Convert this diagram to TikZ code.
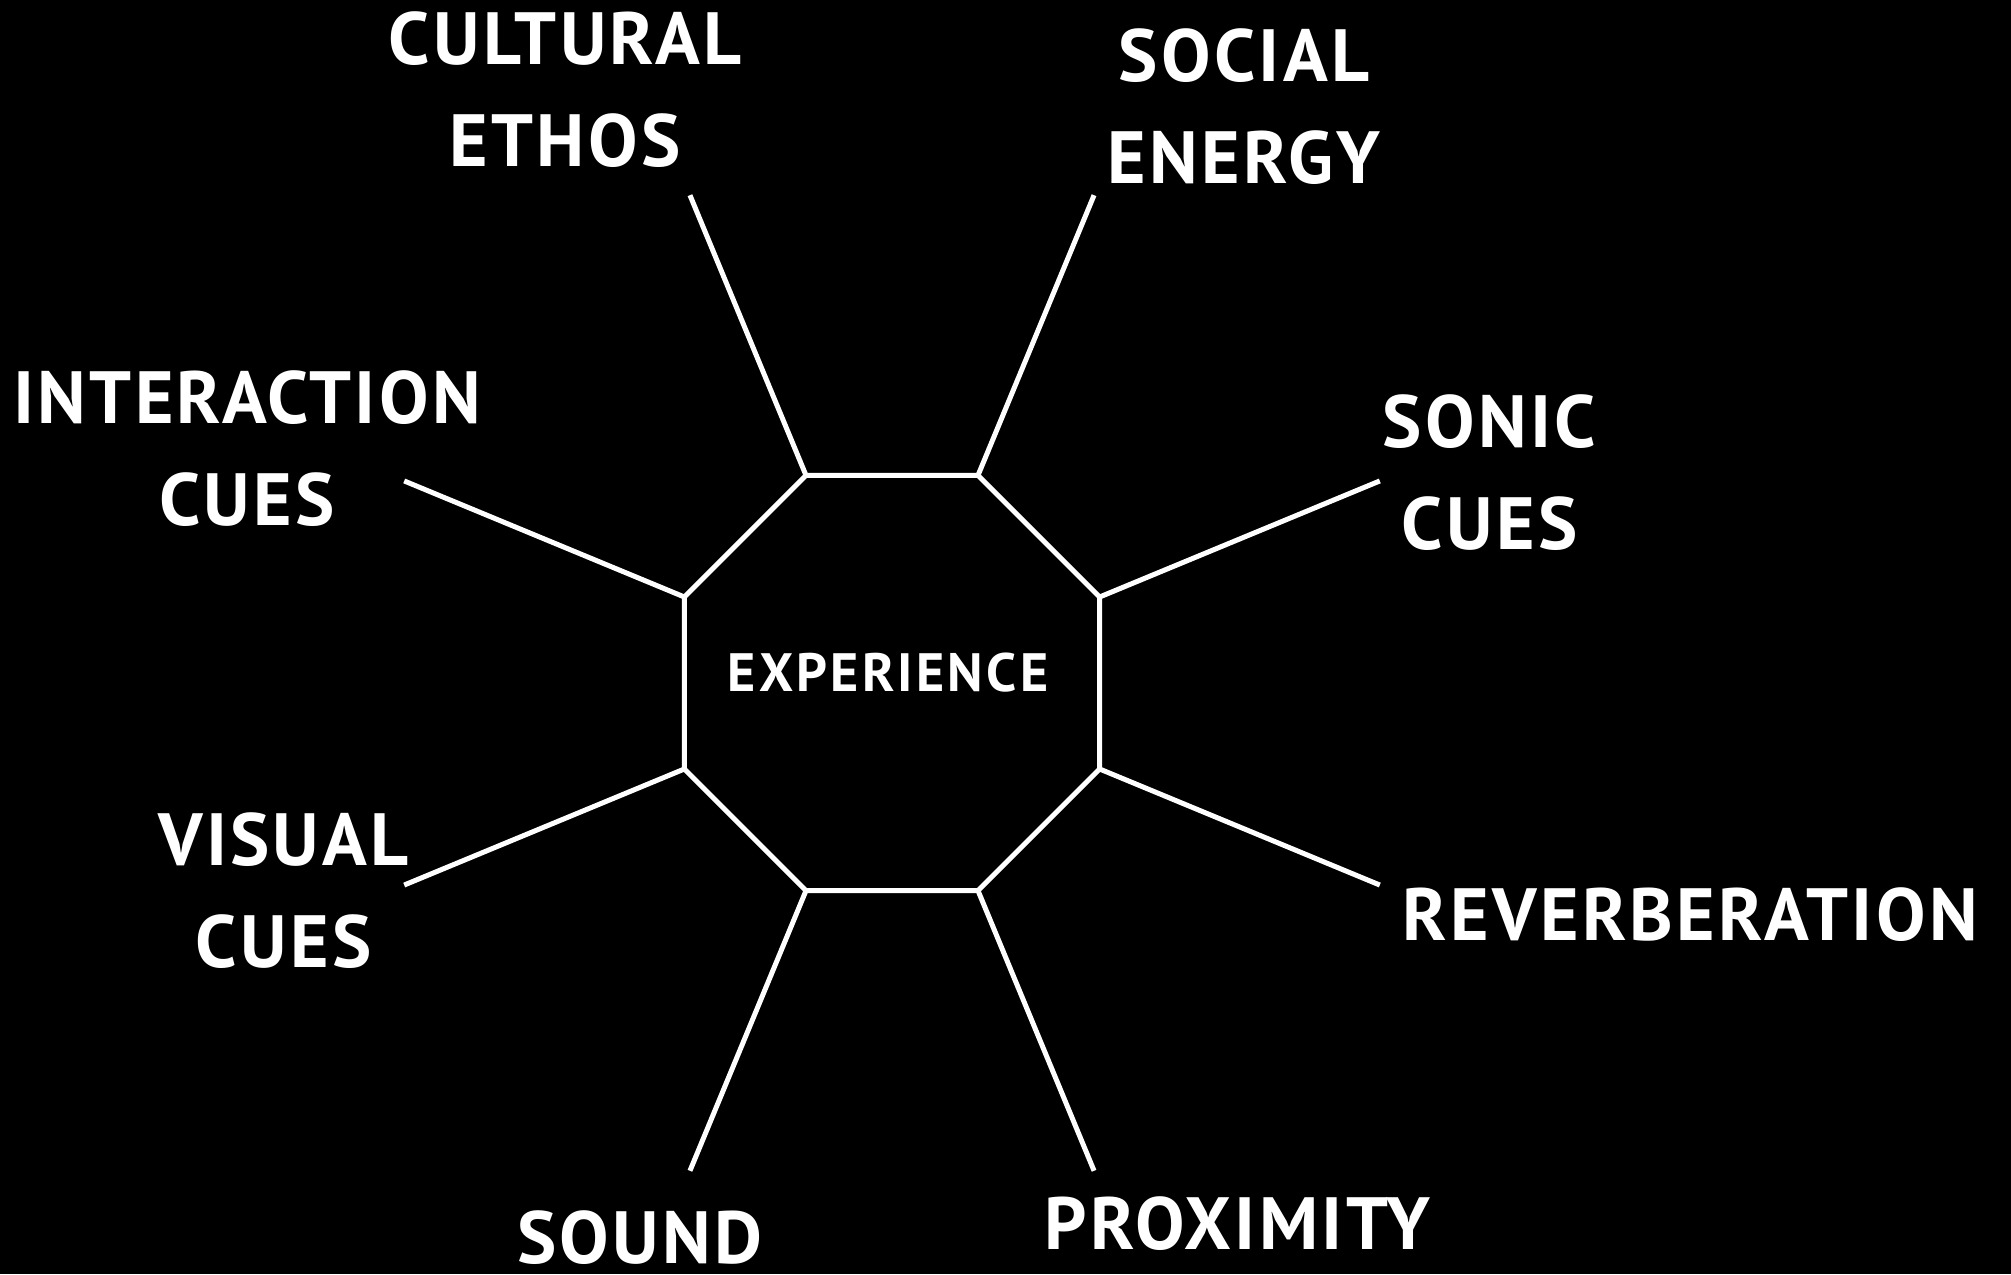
\documentclass[tikz,border=0pt]{standalone}
\usepackage{fontspec}
\setmainfont{PT Sans}
\newfontfamily\lblfont[LetterSpace=4.5]{PT Sans}
\newfontfamily\ctrfont[LetterSpace=6]{PT Sans}
\usetikzlibrary{calc}
\begin{document}
\begin{tikzpicture}[x=0.5pt,y=0.5pt,
  lbl/.style={text=white, font=\lblfont\bfseries\fontsize{37}{51}\selectfont, align=center, inner sep=0pt},
  ctr/.style={text=white, font=\ctrfont\bfseries\fontsize{27}{32}\selectfont, inner sep=0pt},
  edge/.style={draw=white, line width=2.5pt}]
\fill[black] (0,0) rectangle (2011,1274);
\useasboundingbox (0,0) rectangle (2011,1274);
\coordinate (c) at (892,591);
\foreach \i in {1,...,8} {
  \pgfmathsetmacro\ang{22.5+45*(\i-1)}
  \coordinate (v\i) at ($(c)+(\ang:224.7)$);
  \coordinate (e\i) at ($(c)+(\ang:528)$);
}
\draw[edge] (v1) -- (v2) -- (v3) -- (v4) -- (v5) -- (v6) -- (v7) -- (v8) -- cycle;
\foreach \i in {1,...,8} { \draw[edge] (v\i) -- (e\i); }
\node[ctr] (exp) at (888,601) {EXPERIENCE};
\node[lbl] (cult) at (565,1184) {CULTURAL\\ETHOS};
\node[lbl] (soc) at (1244,1167.5) {SOCIAL\\ENERGY};
\node[lbl] (inter) at (247,825) {INTERACTION\\CUES};
\node[lbl] (sonic) at (1489.5,801.5) {SONIC\\CUES};
\node[lbl] (vis) at (283.5,383) {VISUAL\\CUES};
\node[lbl] (rev) at (1690,359) {REVERBERATION};
\node[lbl] (snd) at (639.5,36) {SOUND};
\node[lbl] (prox) at (1237.5,50.5) {PROXIMITY};
\end{tikzpicture}
\end{document}
